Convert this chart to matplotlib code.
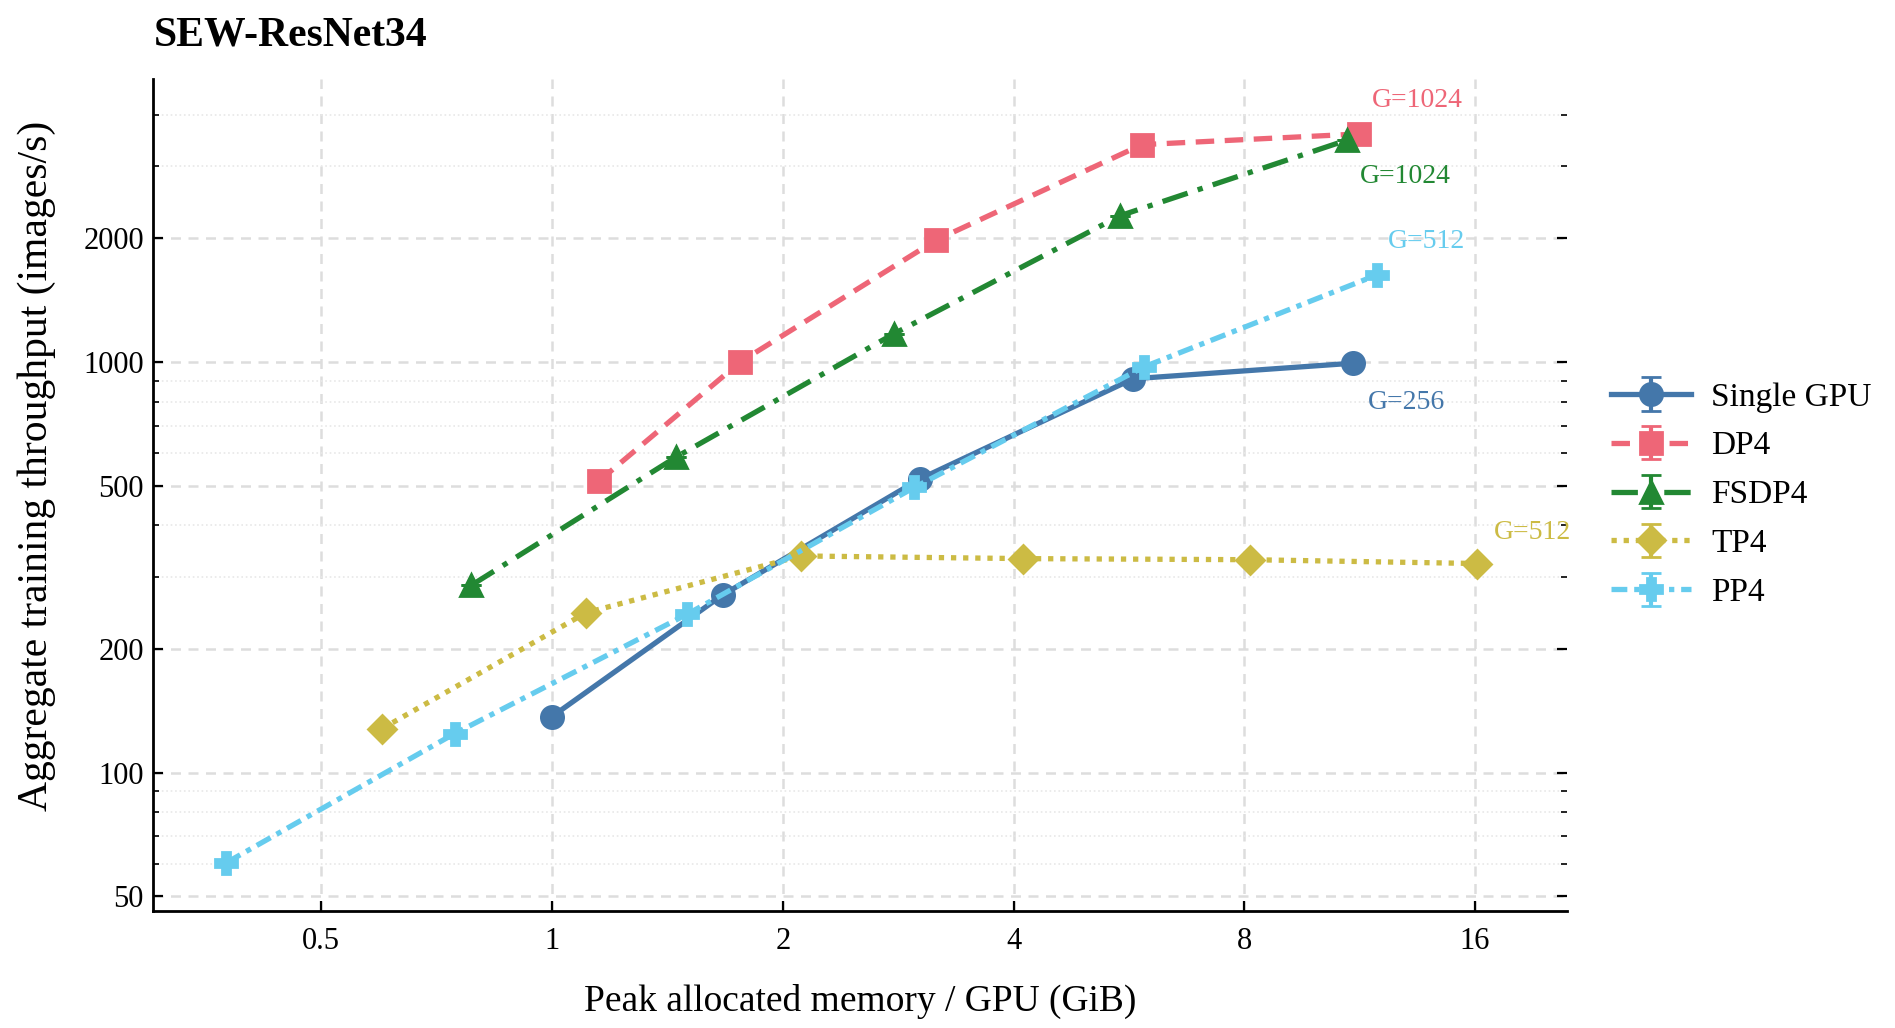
import numpy as np
import matplotlib
matplotlib.use('Agg')
import matplotlib.pyplot as plt
from matplotlib.ticker import FixedLocator, NullLocator, NullFormatter, LogLocator

plt.rcParams['font.family'] = ['Liberation Serif', 'DejaVu Serif']
plt.rcParams['mathtext.fontset'] = 'stix'

# values (memory GiB, throughput images/s)
single_mem = [1.0, 1.67, 3.02, 5.73, 11.1]
single_tp = [137, 271, 519, 910, 993]
dp4_mem = [1.15, 1.76, 3.17, 5.88, 11.3]
dp4_tp = [512, 1000, 1980, 3380, 3590]
fsdp4_mem = [0.785, 1.45, 2.79, 5.51, 10.9]
fsdp4_tp = [286, 586, 1170, 2270, 3470]
tp4_mem = [0.60, 1.107, 2.11, 4.12, 8.14, 16.1]
tp4_tp = [128, 245, 337, 332, 330, 323]
pp4_mem = [0.376, 0.746, 1.50, 2.97, 5.92, 11.9]
pp4_tp = [60.4, 124.5, 243, 495, 973, 1627]

x_ticks = [0.5, 1, 2, 4, 8, 16]
x_labels = ['0.5', '1', '2', '4', '8', '16']
y_ticks = [50, 100, 200, 500, 1000, 2000]
y_labels = ['50', '100', '200', '500', '1000', '2000']

series = [
    ('Single GPU', single_mem, single_tp, '#4477AA', 'o', '-', 'G=256', (19, -14)),
    ('DP4', dp4_mem, dp4_tp, '#EE6677', 's', (0, (3.5, 2)), 'G=1024', (21, 12)),
    ('FSDP4', fsdp4_mem, fsdp4_tp, '#228833', '^', (0, (5, 2, 1, 2)), 'G=1024', (21, -13)),
    ('TP4', tp4_mem, tp4_tp, '#CCBB44', 'D', (0, (1, 1.3)), 'G=512', (20, 11)),
    ('PP4', pp4_mem, pp4_tp, '#66CCEE', 'P', (0, (3, 1.3, 1, 1.3)), 'G=512', (18, 12)),
]

fig = plt.figure(figsize=(9.475, 5.14), dpi=200)
ax = fig.add_axes([0.081, 0.114, 0.746, 0.809])

for name, xs, ys, color, marker, ls, note, off in series:
    ms = 8 if marker != 'D' else 7
    ax.errorbar(xs, ys, yerr=np.zeros(len(ys)), color=color, marker=marker, ls=ls,
                lw=1.9, ms=ms, capsize=3.5, elinewidth=1.5, label=name)
    ax.annotate(note, (xs[-1], ys[-1]), xytext=off, textcoords='offset points',
                ha='center', va='center', color=color, fontsize=10)

ax.set_xscale('log')
ax.set_yscale('log')
ax.set_xlim(0.302, 21.1)
ax.set_ylim(46.1, 4880)

ax.xaxis.set_major_locator(FixedLocator(x_ticks))
ax.set_xticklabels(x_labels)
ax.xaxis.set_minor_locator(NullLocator())
ax.yaxis.set_major_locator(FixedLocator(y_ticks))
ax.set_yticklabels(y_labels)
ax.yaxis.set_minor_locator(LogLocator(base=10, subs=np.arange(2, 10)))
ax.yaxis.set_minor_formatter(NullFormatter())

ax.spines['top'].set_visible(False)
ax.spines['right'].set_visible(False)
ax.spines['left'].set_linewidth(1.0)
ax.spines['bottom'].set_linewidth(1.0)
ax.tick_params(axis='both', which='major', direction='in', labelsize=11, length=3.5)
ax.tick_params(axis='x', which='major', pad=6)
ax.tick_params(axis='y', which='both', right=True)
ax.tick_params(axis='y', which='minor', direction='in', length=2)

ax.grid(True, which='major', ls=(0, (4, 3)), color='#dddddd', lw=0.9)
ax.grid(True, which='minor', axis='y', ls=':', color='#e8e8e8', lw=0.6)
ax.set_axisbelow(True)

ax.set_xlabel('Peak allocated memory / GPU (GiB)', fontsize=13.5, labelpad=10)
ax.set_ylabel('Aggregate training throughput (images/s)', fontsize=15)
ax.yaxis.set_label_coords(-0.069, 0.535)
ax.set_title('SEW-ResNet34', loc='left', fontweight='bold', fontsize=15, pad=12)

ax.legend(loc='center left', bbox_to_anchor=(1.01, 0.5), frameon=False,
          fontsize=12, handlelength=2.4, handletextpad=0.6, labelspacing=0.55)

fig.savefig('out.png', dpi=200)
